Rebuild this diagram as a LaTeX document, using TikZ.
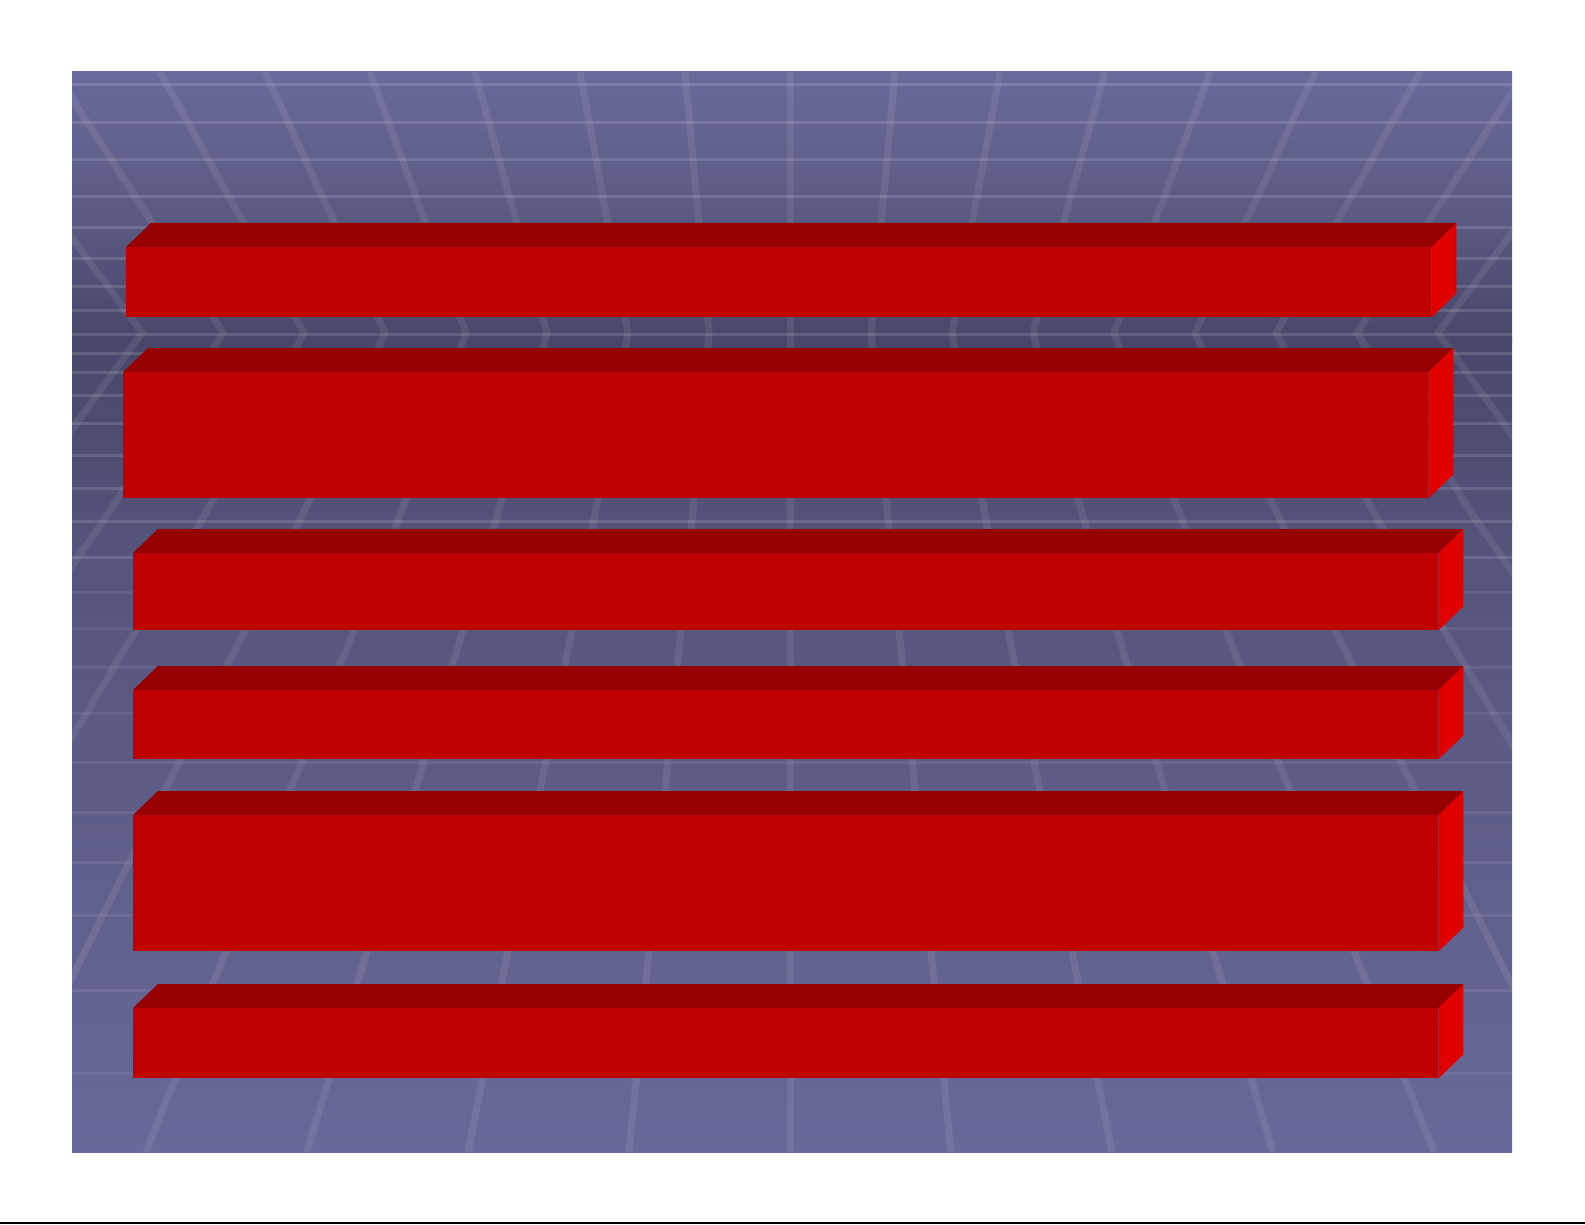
\documentclass[tikz,border=0pt]{standalone}
\definecolor{bgA}{RGB}{106,106,155}
\definecolor{bgB}{RGB}{88,88,128}
\definecolor{bgC}{RGB}{71,71,106}
\definecolor{bgD}{RGB}{83,83,122}
\definecolor{bgE}{RGB}{105,105,153}
\definecolor{barTop}{RGB}{150,0,0}
\definecolor{barFront}{RGB}{192,0,0}
\definecolor{barSide}{RGB}{224,0,0}
\tikzset{
  gridv/.style={draw=white, draw opacity=0.08, line width=7pt},
  gridh/.style={draw=white, draw opacity=0.13, line width=3pt},
  gridhfaint/.style={draw=white, draw opacity=0.07, line width=3pt},
  barfront/.style={rectangle, fill=barFront, inner sep=0pt, anchor=north west, minimum width=1305pt},
  bartop/.style={fill=barTop},
  barside/.style={fill=barSide},
}
\newcommand{\threedbar}[1]{%
  \fill[bartop] (#1.north west) -- ([shift={(25,-24)}]#1.north west) -- ([shift={(25,-24)}]#1.north east) -- (#1.north east) -- cycle;
  \fill[barside] (#1.north east) -- ([shift={(25,-24)}]#1.north east) -- ([shift={(25,-24)}]#1.south east) -- (#1.south east) -- cycle;
}
\begin{document}
\begin{tikzpicture}[x=1pt,y=-1pt]
\useasboundingbox (0,0) rectangle (1585,1225);
\fill[white] (0,0) rectangle (1585,1225);
% background gradient
\shade[top color=bgA, bottom color=bgB] (72,72) rectangle (1512,231);
\shade[top color=bgB, bottom color=bgC] (72,230) rectangle (1512,341);
\shade[top color=bgC, bottom color=bgD] (72,340) rectangle (1512,521);
\shade[top color=bgD, bottom color=bgE] (72,520) rectangle (1512,1152);
% perspective grid
\begin{scope}
\clip (72,72) rectangle (1512,1152);
\foreach \k in {-9,...,9} {
  \draw[gridv] ({790+\k*105},72) -- ({790+\k*81},333) -- ({790+\k*98},520) -- ({790+\k*161},1152);
}
\foreach \y in {85,123,160,197,228,258,286,310,334,353,372,395,423,455,488,521,557} {
  \draw[gridh] (72,\y) -- (1512,\y);
}
\foreach \y in {592,628,667,713,762,812,862,915,990,1073} {
  \draw[gridhfaint] (72,\y) -- (1512,\y);
}
\end{scope}
% bars
\node[barfront, minimum height=70pt] (b1) at (126,247) {};
\threedbar{b1}
\node[barfront, minimum height=126pt] (b2) at (123,372) {};
\threedbar{b2}
\node[barfront, minimum height=77pt] (b3) at (133,553) {};
\threedbar{b3}
\node[barfront, minimum height=69pt] (b4) at (133,690) {};
\threedbar{b4}
\node[barfront, minimum height=136pt] (b5) at (133,815) {};
\threedbar{b5}
\node[barfront, minimum height=70pt] (b6) at (133,1008) {};
\threedbar{b6}
% bottom rule
\fill[black] (0,1222) rectangle (1585,1224);
\end{tikzpicture}
\end{document}
